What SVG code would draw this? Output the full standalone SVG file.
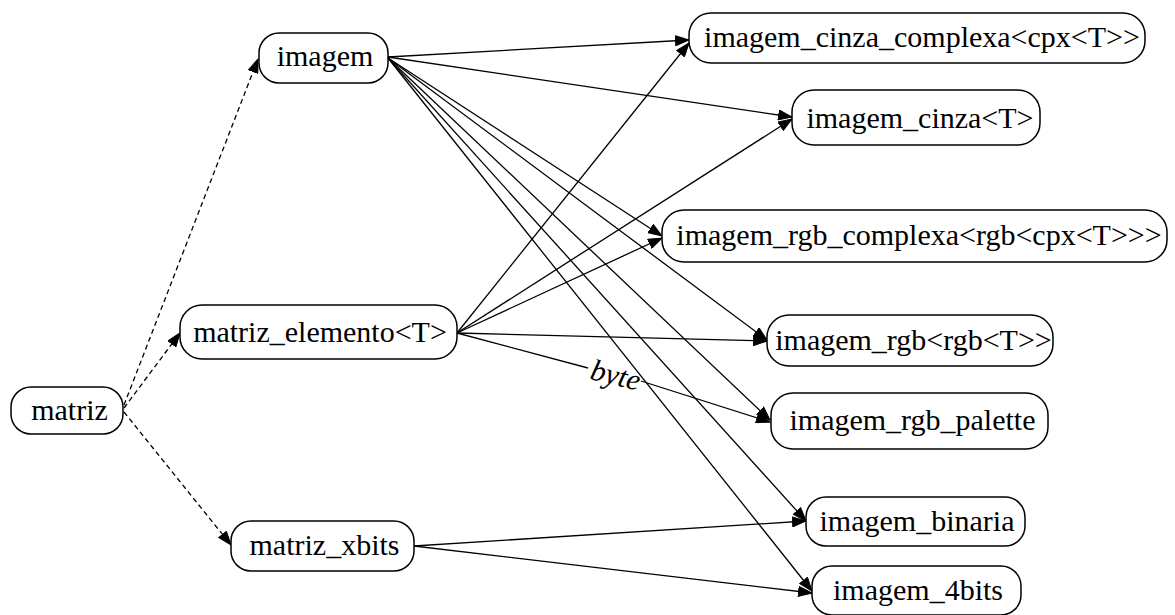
<svg xmlns="http://www.w3.org/2000/svg" width="1175" height="615" viewBox="0 0 1175 615">
<defs>
<style>
.node rect{fill:#fff;stroke:#000;stroke-width:1.5}
.node text{font-family:'Liberation Serif','Times New Roman',Times,serif;font-size:30px;fill:#000;text-anchor:middle}
.edge{fill:none;stroke:#000;stroke-width:1.3;marker-end:url(#arr)}
.dash{stroke-dasharray:5,3.5}
.lbl{font-family:'Liberation Serif','Times New Roman',Times,serif;font-size:30px;font-style:italic;fill:#000;text-anchor:middle}
</style>
<marker id="arr" markerUnits="userSpaceOnUse" markerWidth="15" markerHeight="11" refX="14" refY="5.5" orient="auto" viewBox="0 0 15 11">
<path d="M0.5,0.5 L14,5.5 L0.5,10.5 z" fill="#000" stroke="#000" stroke-width="1"/>
</marker>
</defs>
<rect width="1175" height="615" fill="#fff"/>
<g id="edges">
<path class="edge dash" d="M124,405 L258,59"/>
<path class="edge dash" d="M124,408 L180,333"/>
<path class="edge dash" d="M124,412 L231,545"/>
<path class="edge" d="M388,57 L689,40"/>
<path class="edge" d="M388,57 L792,117"/>
<path class="edge" d="M388,58 L662,236"/>
<path class="edge" d="M388,58 L767,340"/>
<path class="edge" d="M388,58 L770,420"/>
<path class="edge" d="M388,58 L806,521"/>
<path class="edge" d="M388,58 L812,591"/>
<path class="edge" d="M457,333 L689,43"/>
<path class="edge" d="M457,333 L792,119"/>
<path class="edge" d="M457,333 L662,238"/>
<path class="edge" d="M457,333 L767,341"/>
<path d="M457,333 L588,368" fill="none" stroke="#000" stroke-width="1.3"/>
<path class="edge" d="M641,381 L770,422"/>
<text class="lbl" x="615" y="385" transform="rotate(14 615 378)" font-family="Liberation Serif, serif">byte</text>
<path class="edge" d="M414,546 L806,521"/>
<path class="edge" d="M414,546 L812,593"/>
</g>
<g id="matriz" class="node"><rect x="11" y="387" width="112" height="47" rx="20"/><text x="69.5" y="420">matriz</text></g>
<g id="imagem" class="node"><rect x="259" y="33" width="129" height="50" rx="20"/><text x="325" y="66">imagem</text></g>
<g id="matriz_elemento" class="node"><rect x="180" y="305" width="277" height="54" rx="22"/><text x="320" y="342">matriz_elemento&lt;T&gt;</text></g>
<g id="matriz_xbits" class="node"><rect x="231" y="521" width="183" height="50" rx="20"/><text x="324.5" y="555">matriz_xbits</text></g>
<g id="imagem_cinza_complexa" class="node"><rect x="689" y="13" width="456" height="50" rx="22"/><text x="922" y="47">imagem_cinza_complexa&lt;cpx&lt;T&gt;&gt;</text></g>
<g id="imagem_cinza" class="node"><rect x="792" y="90" width="248" height="55" rx="22"/><text x="920" y="128">imagem_cinza&lt;T&gt;</text></g>
<g id="imagem_rgb_complexa" class="node"><rect x="662" y="210" width="505" height="52" rx="22"/><text x="919" y="245">imagem_rgb_complexa&lt;rgb&lt;cpx&lt;T&gt;&gt;&gt;</text></g>
<g id="imagem_rgb" class="node"><rect x="767" y="315" width="286" height="51" rx="22"/><text x="913.5" y="350">imagem_rgb&lt;rgb&lt;T&gt;&gt;</text></g>
<g id="imagem_rgb_palette" class="node"><rect x="771" y="393" width="277" height="56" rx="22"/><text x="912.5" y="430">imagem_rgb_palette</text></g>
<g id="imagem_binaria" class="node"><rect x="806" y="497" width="219" height="49" rx="20"/><text x="917" y="531">imagem_binaria</text></g>
<g id="imagem_4bits" class="node"><rect x="812" y="566" width="209" height="49" rx="20"/><text x="918" y="600">imagem_4bits</text></g>
</svg>
